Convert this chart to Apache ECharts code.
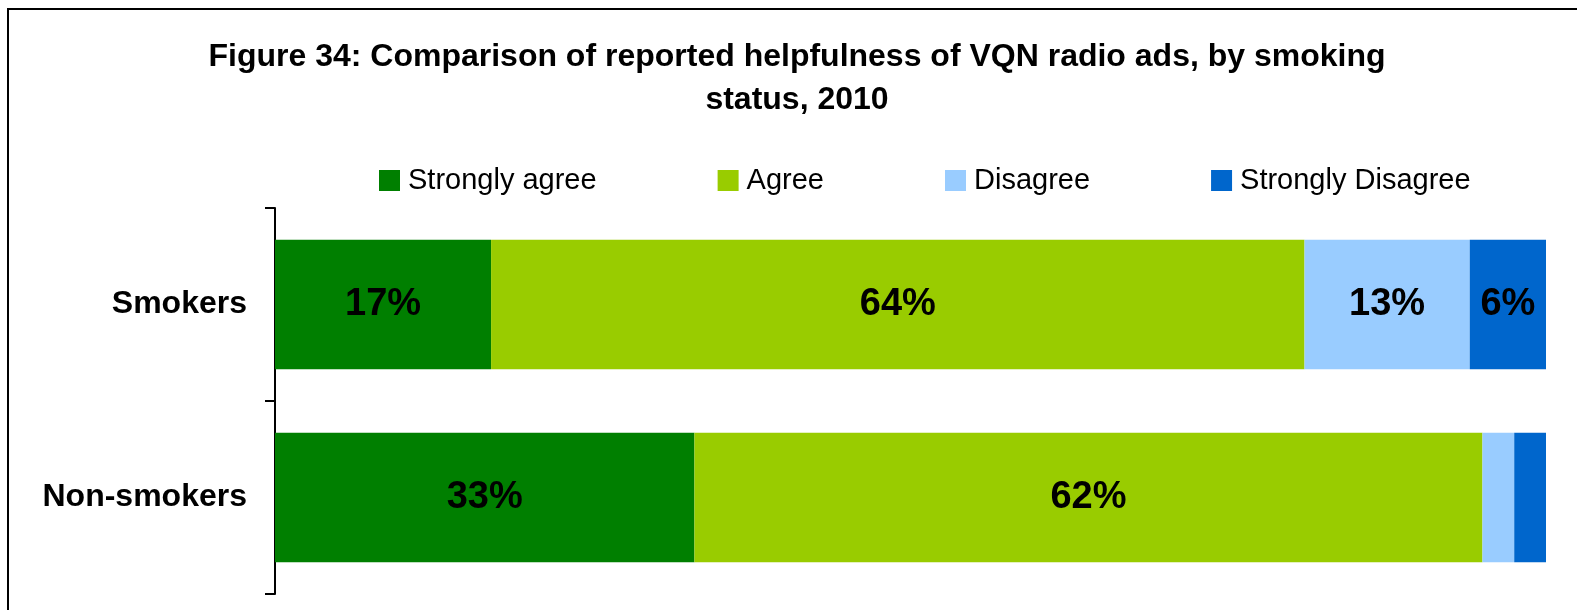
<!DOCTYPE html>
<html>
  <head>
    <meta charset="utf-8" />
    <title>Figure 34</title>
    <script src="https://cdn.jsdelivr.net/npm/echarts@6/dist/echarts.min.js"></script>
    <style>
      html, body { margin: 0; padding: 0; background: #fff; }
    </style>
  </head>
  <body>
    <div id="container" style="width: 1577px;height: 610px;"></div>

    <script type="text/javascript">
    // data
    var categories = ['Smokers', 'Non-smokers'];
    var seriesNames = ['Strongly agree', 'Agree', 'Disagree', 'Strongly Disagree'];
    var stronglyAgree = [17, 33];
    var agree = [64, 62];
    var disagree = [13, 2.5];
    var stronglyDisagree = [6, 2.5];
    var colors = ['#007F00', '#99CC00', '#99CCFF', '#0066CC'];

    var font = '"Liberation Sans", Arial, sans-serif';
    var myChart = echarts.init(document.getElementById('container'));

    function makeSeries(name, values, color) {
      return {
        name: name,
        type: 'bar',
        stack: 'total',
        barCategoryGap: '33%',
        data: values,
        itemStyle: { color: color },
        label: {
          show: true,
          position: 'inside',
          color: '#000',
          fontFamily: font,
          fontWeight: 'bold',
          fontSize: 38,
          formatter: function (p) {
            // small slices have no label in the original
            return p.value < 5 ? '' : p.value + '%';
          }
        },
        emphasis: { disabled: true }
      };
    }

    var option = {
      animation: false,
      backgroundColor: '#fff',
      textStyle: { fontFamily: font },
      graphic: [
        {
          type: 'rect',
          shape: { x: 8, y: 9, width: 1700, height: 800 },
          style: { fill: 'none', stroke: '#000', lineWidth: 2 }
        }
      ],
      title: {
        text: 'Figure 34: Comparison of reported helpfulness of VQN radio ads, by smoking\nstatus, 2010',
        left: 792,
        top: 31,
        textAlign: 'center',
        textStyle: {
          fontFamily: font,
          fontWeight: 'bold',
          fontSize: 32,
          lineHeight: 43,
          color: '#000',
          align: 'center'
        }
      },
      legend: {
        left: 374,
        top: 161,
        itemWidth: 21,
        itemHeight: 21,
        itemGap: 121,
        icon: 'rect',
        data: seriesNames,
        textStyle: {
          fontFamily: font,
          fontSize: 29,
          color: '#000',
          padding: [0, 0, 0, 3]
        }
      },
      grid: {
        left: 275,
        right: 31,
        top: 208,
        bottom: 16,
        containLabel: false
      },
      xAxis: {
        type: 'value',
        min: 0,
        max: 100,
        show: false
      },
      yAxis: {
        type: 'category',
        inverse: true,
        data: categories,
        axisLine: { lineStyle: { color: '#000', width: 2 } },
        axisTick: { show: true, length: 10, lineStyle: { color: '#000', width: 2 } },
        axisLabel: {
          margin: 28,
          color: '#000',
          fontFamily: font,
          fontWeight: 'bold',
          fontSize: 32
        }
      },
      series: [
        makeSeries(seriesNames[0], stronglyAgree, colors[0]),
        makeSeries(seriesNames[1], agree, colors[1]),
        makeSeries(seriesNames[2], disagree, colors[2]),
        makeSeries(seriesNames[3], stronglyDisagree, colors[3])
      ]
    };

    myChart.setOption(option);
    window.addEventListener('resize', myChart.resize);
    </script>
  </body>
</html>
